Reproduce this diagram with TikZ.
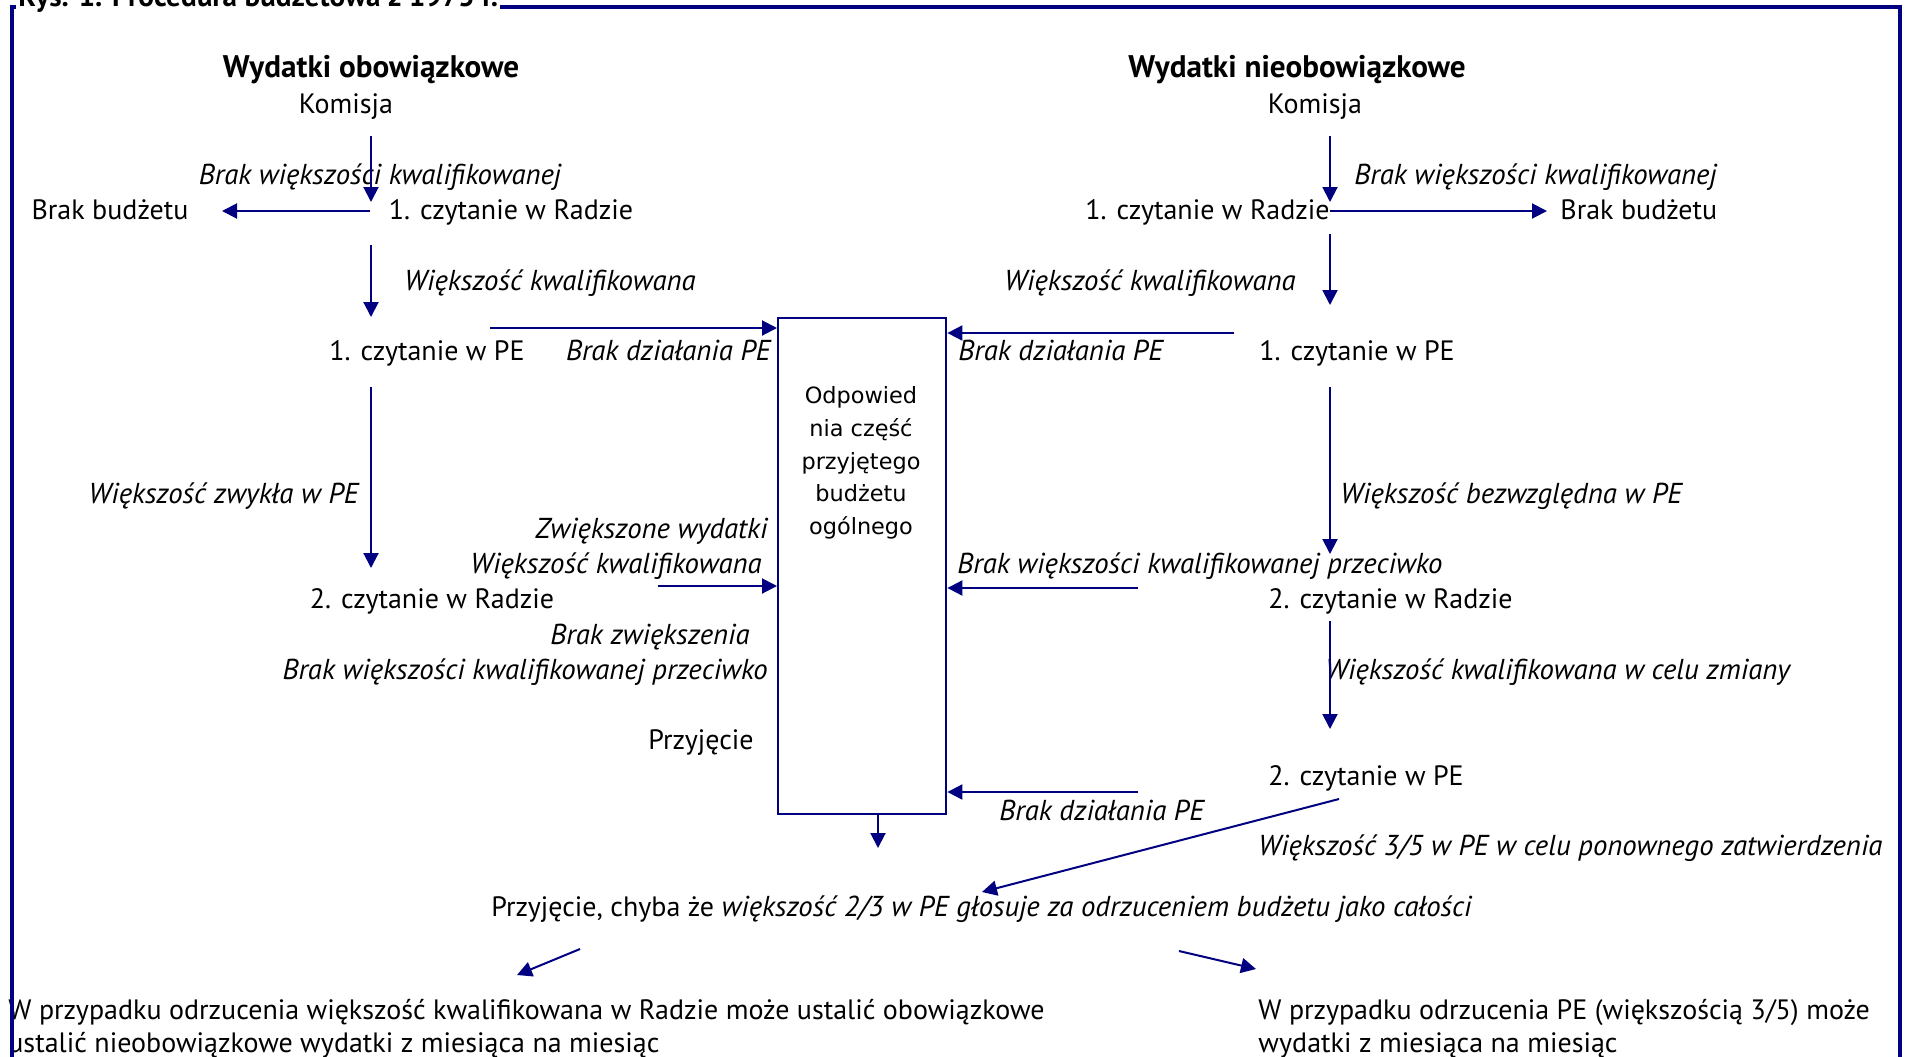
\documentclass[tikz,border=0pt]{standalone}
\usepackage{fontspec}
\setmainfont{PT Sans}
\newfontfamily\boxfont{DejaVu Sans}
\usetikzlibrary{arrows.meta}
\definecolor{navy}{RGB}{0,0,128}
\begin{document}
\begin{tikzpicture}[x=0.5pt,y=-0.5pt,
  txt/.style={inner sep=0pt, font=\fontsize{14}{17}\selectfont},
  lab/.style={inner sep=0pt, font=\fontsize{14.4}{17}\selectfont\itshape},
  head/.style={inner sep=0pt, font=\fontsize{15.6}{18}\selectfont\bfseries},
  arr/.style={draw=navy, line width=1pt, -{Triangle[length=7.5pt,width=7.5pt]}},
]
\useasboundingbox (0,0) rectangle (1906,1056);

% ---------- left column ----------
\node[head, anchor=base] (hL) at (371,77) {Wydatki obowiązkowe};
\node[txt, anchor=base] (kL) at (346,113) {Komisja};
\node[lab, anchor=base] (lL1) at (380,184) {Brak większości kwalifikowanej};
\node[txt, anchor=base] (bbL) at (110,219) {Brak budżetu};
\node[txt, anchor=base] (r1L) at (511,219) {1. czytanie w Radzie};
\node[lab, anchor=base west] (lL2) at (404,290) {Większość kwalifikowana};
\node[txt, anchor=base] (p1L) at (427,360) {1. czytanie w PE};
\node[lab, anchor=base east] (lL3) at (771,360) {Brak działania PE};
\node[lab, anchor=base east] (lL4) at (359,503) {Większość zwykła w PE};
\node[lab, anchor=base east] (lL5) at (768,538) {Zwiększone wydatki};
\node[lab, anchor=base east] (lL6) at (762,573) {Większość kwalifikowana};
\node[txt, anchor=base] (r2L) at (432,608) {2. czytanie w Radzie};
\node[lab, anchor=base east] (lL7) at (750,644) {Brak zwiększenia};
\node[lab, anchor=base east] (lL8) at (768,679) {Brak większości kwalifikowanej przeciwko};
\node[txt, anchor=base east] (przL) at (754,749) {Przyjęcie};

% ---------- central box ----------
\node[draw=navy, line width=1.2pt, minimum width=84pt, minimum height=248pt,
      inner sep=0pt, anchor=north west] (box) at (777,317) {};
\node[inner sep=0pt, align=center, font=\boxfont\fontsize{11.2}{16.3}\selectfont]
      (boxtxt) at (861,463) {Odpowied\\nia część\\przyjętego\\budżetu\\ogólnego};

% ---------- right column ----------
\node[head, anchor=base] (hR) at (1297,77) {Wydatki nieobowiązkowe};
\node[txt, anchor=base] (kR) at (1315,113) {Komisja};
\node[lab, anchor=base west] (lR1) at (1354,184) {Brak większości kwalifikowanej};
\node[txt, anchor=base east] (r1R) at (1330,219) {1. czytanie w Radzie};
\node[txt, anchor=base west] (bbR) at (1560,219) {Brak budżetu};
\node[lab, anchor=base east] (lR2) at (1296,290) {Większość kwalifikowana};
\node[lab, anchor=base west] (lR3) at (958,360) {Brak działania PE};
\node[txt, anchor=base west] (p1R) at (1259,360) {1. czytanie w PE};
\node[lab, anchor=base west] (lR4) at (1340,503) {Większość bezwzględna w PE};
\node[lab, anchor=base west] (lR5) at (957,573) {Brak większości kwalifikowanej przeciwko};
\node[txt, anchor=base west] (r2R) at (1268,608) {2. czytanie w Radzie};
\node[lab, anchor=base west] (lR6) at (1325,679) {Większość kwalifikowana w celu zmiany};
\node[txt, anchor=base west] (p2R) at (1268,785) {2. czytanie w PE};
\node[lab, anchor=base west] (lR7) at (999,820) {Brak działania PE};
\node[lab, anchor=base west] (lR8) at (1258,855) {Większość 3/5 w PE w celu ponownego zatwierdzenia};

% ---------- bottom ----------
\node[txt, anchor=base west] (final) at (491,916) {Przyjęcie, chyba że {\fontsize{14.4}{17}\selectfont\itshape większość 2/3 w PE głosuje za odrzuceniem budżetu jako całości}};
\node[txt, anchor=base west] (outL1) at (8,1019) {W przypadku odrzucenia większość kwalifikowana w Radzie może ustalić obowiązkowe};
\node[txt, anchor=base west] (outL2) at (8,1052) {ustalić nieobowiązkowe wydatki z miesiąca na miesiąc};
\node[txt, anchor=base west] (outR1) at (1258,1019) {W przypadku odrzucenia PE (większością 3/5) może};
\node[txt, anchor=base west] (outR2) at (1258,1052) {wydatki z miesiąca na miesiąc};

% ---------- connector end points ----------
\coordinate (kLs) at (371,136);  \coordinate (r1Lt) at (371,202);
\coordinate (r1Lw) at (370,211); \coordinate (bbLe) at (222,211);
\coordinate (r1Lb) at (371,245); \coordinate (p1Lt) at (371,317);
\coordinate (p1Le) at (490,328);
\coordinate (p1Lb) at (371,387); \coordinate (r2Lt) at (371,568);
\coordinate (r2Le) at (658,586);
\coordinate (kRs) at (1330,136); \coordinate (r1Rt) at (1330,202);
\coordinate (r1Re) at (1330,211); \coordinate (bbRw) at (1547,211);
\coordinate (r1Rb) at (1330,234); \coordinate (p1Rt) at (1330,305);
\coordinate (p1Rw) at (1234,333);
\coordinate (p1Rb) at (1330,387); \coordinate (r2Rt) at (1330,554);
\coordinate (r2Rw) at (1138,588);
\coordinate (r2Rb) at (1330,621); \coordinate (p2Rt) at (1330,729);
\coordinate (p2Rw) at (1138,792);
\coordinate (p2Rs) at (1339,799); \coordinate (finT) at (982,892);
\coordinate (boxb) at (878,813); \coordinate (boxd) at (878,848);
\coordinate (finL) at (580,949); \coordinate (outLt) at (517,975);
\coordinate (finR) at (1179,951); \coordinate (outRt) at (1256,969);

% ---------- connectors ----------
\draw[arr] (kLs) -- (r1Lt);
\draw[arr] (r1Lw) -- (bbLe);
\draw[arr] (r1Lb) -- (p1Lt);
\draw[arr] (p1Le) -- (box.west |- p1Le);
\draw[arr] (p1Lb) -- (r2Lt);
\draw[arr] (r2Le) -- (box.west |- r2Le);
\draw[arr] (kRs) -- (r1Rt);
\draw[arr] (r1Re) -- (bbRw);
\draw[arr] (r1Rb) -- (p1Rt);
\draw[arr] (p1Rw) -- (box.east |- p1Rw);
\draw[arr] (p1Rb) -- (r2Rt);
\draw[arr] (r2Rw) -- (box.east |- r2Rw);
\draw[arr] (r2Rb) -- (p2Rt);
\draw[arr] (p2Rw) -- (box.east |- p2Rw);
\draw[arr] (p2Rs) -- (finT);
\draw[arr] (boxb) -- (boxd);
\draw[arr] (finL) -- (outLt);
\draw[arr] (finR) -- (outRt);

% ---------- frame and title ----------
\draw[navy, line width=2pt] (12,7) rectangle (1900,1059);
\node[inner sep=1pt, fill=white, anchor=base west, font=\fontsize{14.6}{17}\selectfont\bfseries]
      (title) at (16,6) {Rys. 1. Procedura budżetowa z 1975 r.};
\end{tikzpicture}
\end{document}
